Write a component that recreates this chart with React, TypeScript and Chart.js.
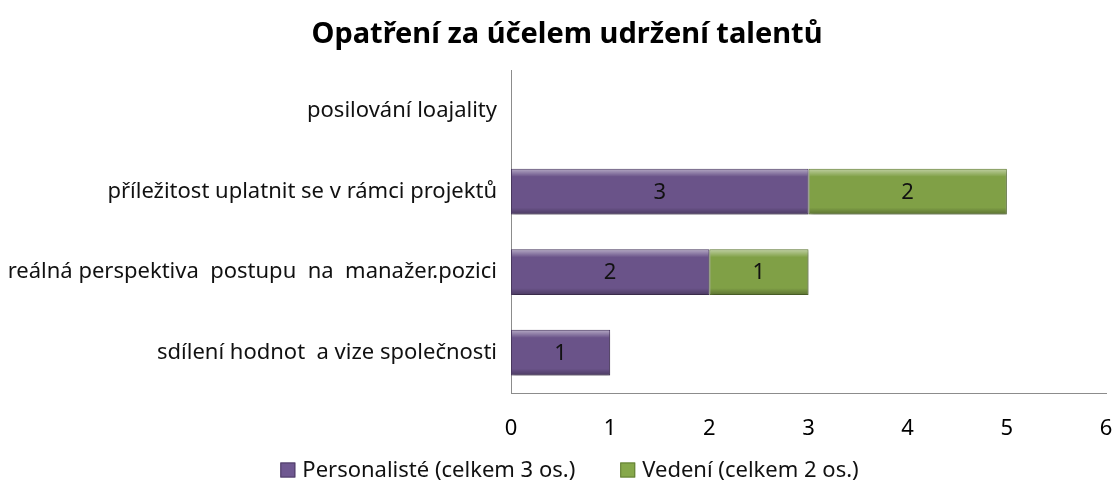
import React, { useEffect, useRef } from "react";
import { Chart, registerables } from "chart.js";

Chart.register(...registerables);

const categories = [
  "posilování loajality",
  "příležitost uplatnit se v rámci projektů",
  "reálná perspektiva  postupu  na  manažer.pozici",
  "sdílení hodnot  a vize společnosti",
];
const personalisteValues = [0, 3, 2, 1];
const vedeniValues = [0, 2, 1, 0];
const seriesNames = ["Personalisté (celkem 3 os.)", "Vedení (celkem 2 os.)"];
const xTicks = [0, 1, 2, 3, 4, 5, 6];
const titleText = "Opatření za účelem udržení talentů";

const FONT = "'Noto Sans', 'DejaVu Sans', sans-serif";
const LEGEND_FILL = ["#6f5891", "#86a84a"];
const LEGEND_STROKE = ["#4f3d66", "#637f35"];

const valueLabels = {
  id: "valueLabels",
  afterDatasetsDraw(chart: any) {
    const ctx = chart.ctx;
    ctx.save();
    ctx.font = `22px ${FONT}`;
    ctx.fillStyle = "#111";
    ctx.textAlign = "center";
    ctx.textBaseline = "middle";
    chart.data.datasets.forEach((ds: any, di: number) => {
      const meta = chart.getDatasetMeta(di);
      meta.data.forEach((bar: any, i: number) => {
        const v = ds.data[i];
        if (!v) return;
        const cx = (bar.x + bar.base) / 2;
        ctx.fillText(String(v), cx, bar.y + 1);
      });
    });
    ctx.restore();
  },
};

const barShadow = {
  id: "barShadow",
  beforeDatasetsDraw(chart: any) {
    const ctx = chart.ctx;
    ctx.save();
    ctx.shadowColor = "rgba(0,0,0,0.35)";
    ctx.shadowBlur = 4;
    ctx.shadowOffsetX = 1;
    ctx.shadowOffsetY = 2;
  },
  afterDatasetsDraw(chart: any) {
    chart.ctx.restore();
  },
};

const bevel = {
  id: "bevel",
  afterDatasetsDraw(chart: any) {
    const ctx = chart.ctx;
    ctx.save();
    chart.data.datasets.forEach((ds: any, di: number) => {
      const meta = chart.getDatasetMeta(di);
      meta.data.forEach((bar: any, i: number) => {
        if (!ds.data[i]) return;
        const x0 = Math.min(bar.x, bar.base) + 1;
        const x1 = Math.max(bar.x, bar.base) - 1;
        const y0 = bar.y - bar.height / 2 + 1;
        const y1 = bar.y + bar.height / 2 - 1;
        const gt = ctx.createLinearGradient(0, y0, 0, y0 + 7);
        gt.addColorStop(0, "rgba(255,255,255,0.45)");
        gt.addColorStop(1, "rgba(255,255,255,0)");
        ctx.fillStyle = gt;
        ctx.fillRect(x0, y0, x1 - x0, 7);
        const gb = ctx.createLinearGradient(0, y1 - 6, 0, y1);
        gb.addColorStop(0, "rgba(0,0,0,0)");
        gb.addColorStop(1, "rgba(0,0,0,0.25)");
        ctx.fillStyle = gb;
        ctx.fillRect(x0, y1 - 6, x1 - x0, 6);
      });
    });
    ctx.restore();
  },
};

// shift title so it is centred like the original
const shiftBlocks = {
  id: "shiftBlocks",
  afterLayout(chart: any) {
    const dx = 12;
    const b = chart.titleBlock;
    if (!b) return;
    b.left += dx;
    b.right += dx;
  },
};

// bottom legend drawn with the original spacing
const customLegend = {
  id: "customLegend",
  afterDraw(chart: any) {
    const ctx = chart.ctx;
    ctx.save();
    ctx.font = `22px ${FONT}`;
    ctx.textBaseline = "middle";
    ctx.textAlign = "left";
    const box = 15;
    const gapBoxText = 7;
    const gapItems = 45;
    const labels = chart.data.datasets.map((d: any) => d.label as string);
    const widths = labels.map((t: string) => box + gapBoxText + ctx.measureText(t).width);
    const total = widths.reduce((a: number, b: number) => a + b, 0) + gapItems * (labels.length - 1);
    const cx = chart.width / 2 + 12;
    const cy = chart.height - 17;
    let x = cx - total / 2;
    labels.forEach((t: string, i: number) => {
      ctx.fillStyle = LEGEND_FILL[i];
      ctx.strokeStyle = LEGEND_STROKE[i];
      ctx.lineWidth = 1;
      ctx.fillRect(x, cy - box / 2, box, box);
      ctx.strokeRect(x + 0.5, cy - box / 2 + 0.5, box - 1, box - 1);
      ctx.fillStyle = "#111";
      ctx.fillText(t, x + box + gapBoxText, cy + 1);
      x += widths[i] + gapItems;
    });
    ctx.restore();
  },
};

export default function App() {
  const ref = useRef<HTMLCanvasElement>(null);
  useEffect(() => {
    if (!ref.current) return;
    const chart = new Chart(ref.current, {
      type: "bar",
      data: {
        labels: categories,
        datasets: [
          {
            label: seriesNames[0],
            data: personalisteValues,
            backgroundColor: "#6a5389",
            borderColor: "#4f3d66",
            borderWidth: 1,
            borderSkipped: false,
            barPercentage: 0.58,
            categoryPercentage: 0.98,
          },
          {
            label: seriesNames[1],
            data: vedeniValues,
            backgroundColor: "#80a046",
            borderColor: "#637f35",
            borderWidth: 1,
            borderSkipped: false,
            barPercentage: 0.58,
            categoryPercentage: 0.98,
          },
        ],
      },
      options: {
        indexAxis: "y",
        animation: false,
        responsive: false,
        maintainAspectRatio: false,
        layout: { padding: { left: 4, right: 9, top: 0, bottom: 39 } },
        scales: {
          x: {
            stacked: true,
            min: 0,
            max: 6,
            afterBuildTicks: (s: any) => {
              s.ticks = xTicks.map((v) => ({ value: v }));
            },
            afterFit: (s: any) => {
              s.paddingRight = 0;
              s.height = 55;
            },
            grid: { display: false, drawTicks: false },
            border: { display: true, color: "#8c8c8c", width: 1 },
            ticks: {
              color: "#000",
              font: { family: FONT, size: 22 },
              padding: 23,
            },
          },
          y: {
            stacked: true,
            grid: { display: false, drawTicks: false },
            border: { display: true, color: "#8c8c8c", width: 1 },
            afterFit: (s: any) => {
              s.width = 507;
            },
            ticks: {
              color: "#111",
              font: { family: FONT, size: 22 },
              padding: 14,
            },
          },
        },
        plugins: {
          title: {
            display: true,
            text: titleText,
            color: "#000",
            font: { family: FONT, size: 29, weight: "bold" },
            padding: { top: 17, bottom: 19 },
          },
          legend: { display: false },
          tooltip: { enabled: false },
        },
      },
      plugins: [shiftBlocks, barShadow, valueLabels, bevel, customLegend],
    });
    return () => chart.destroy();
  }, []);
  return (
    <div style={{ position: "fixed", left: 0, top: 0, width: 1115, height: 487, background: "#fff" }}>
      <canvas ref={ref} width={1115} height={487} style={{ width: 1115, height: 487 }} />
    </div>
  );
}
